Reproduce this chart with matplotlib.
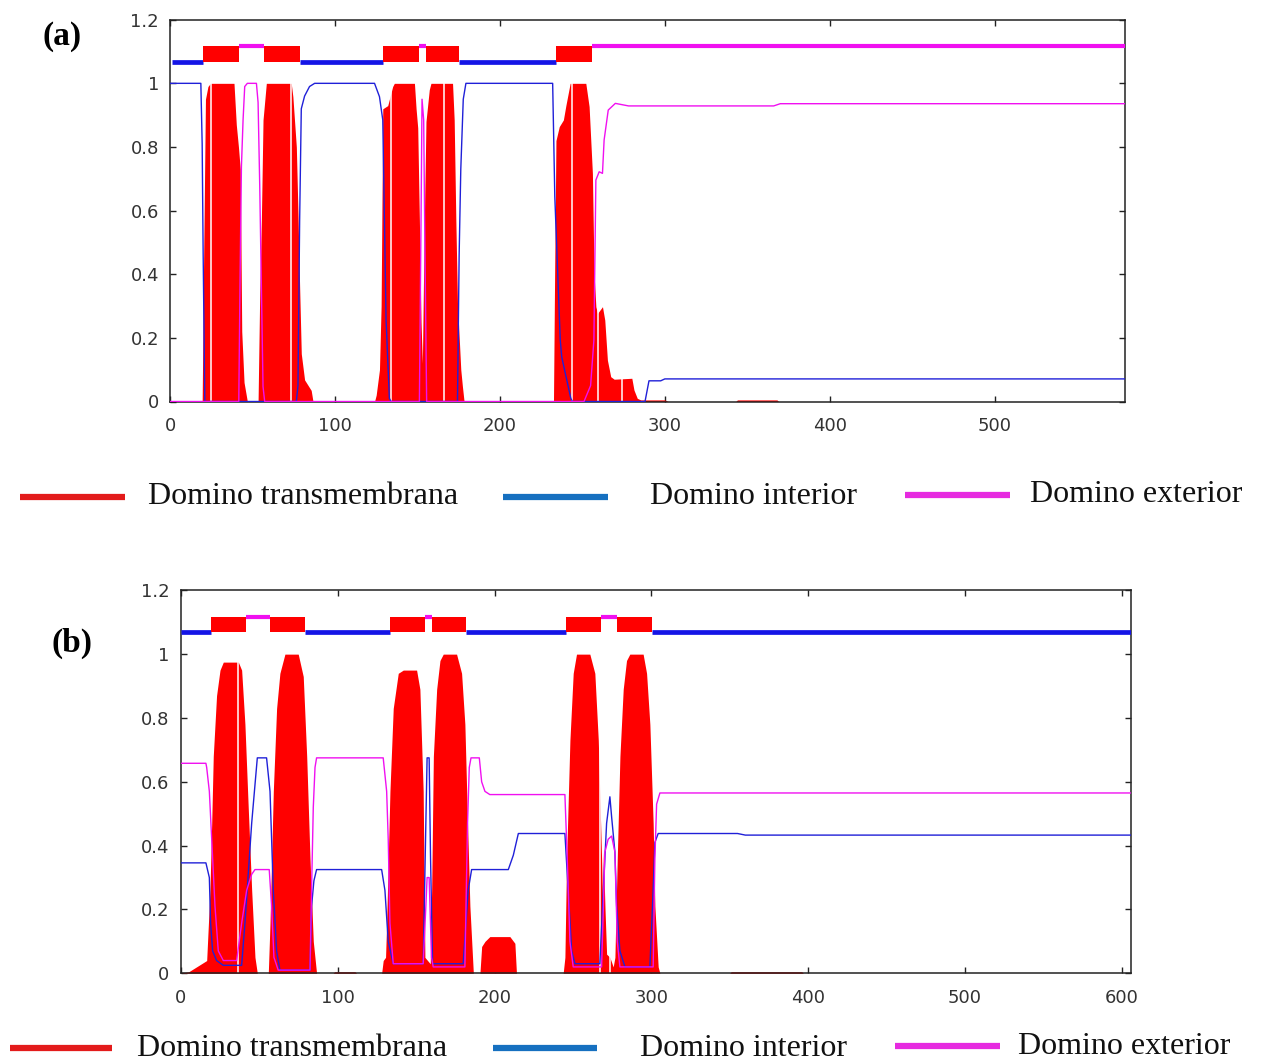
import matplotlib
matplotlib.use("Agg")
import matplotlib.pyplot as plt
from matplotlib.lines import Line2D

# ---------------- panel (a): 578-residue protein ----------------
len_a = 579
tm_a_x = [0, 19.5, 20.5, 21.5, 23, 24.5, 38.8, 40.2, 41.5, 42.6, 43.5, 44.9, 46.9,
          53.4, 54.4, 55.4, 56.4, 58.4, 73.5, 74.5, 76.6, 77.6, 78.6, 79.6, 81.6, 85.6, 86.7,
          124, 125, 127, 128, 129, 132, 135, 136, 148.2, 149.2, 150.2, 151.2, 152.2, 153,
          154.2, 155.2, 157.2, 158.2, 171.3, 172.3, 173.3, 174.3, 176.3, 177.3, 178.3,
          232.5, 233.2, 234, 236, 238.5, 240, 242.6, 252.1, 254.1, 256.1, 257.1, 258.2,
          259.2, 262.2, 263.6, 265.2, 267.2, 269.3, 280, 281.3, 283.3, 285.4, 300, 302,
          343, 344, 368, 369, 579]
tm_a_y = [0, 0, 0.5, 0.95, 0.99, 1.0, 1.0, 0.87, 0.80, 0.73, 0.22, 0.06, 0,
          0, 0.34, 0.57, 0.885, 1.0, 1.0, 0.958, 0.80, 0.59, 0.36, 0.15, 0.068, 0.035, 0,
          0, 0.02, 0.1, 0.3, 0.92, 0.93, 0.99, 1.0, 1.0, 0.92, 0.86, 0.57, 0.25, 0.12,
          0.57, 0.88, 0.98, 1.0, 1.0, 0.885, 0.57, 0.31, 0.1, 0.047, 0,
          0, 0.40, 0.82, 0.864, 0.885, 0.93, 1.0, 1.0, 0.927, 0.717, 0.403, 0.298,
          0.277, 0.298, 0.256, 0.13, 0.078, 0.07, 0.073, 0.036, 0.01, 0.005, 0.005, 0,
          0, 0.005, 0.005, 0, 0]

in_a_x = [0, 18.7, 19.5, 20.1, 21.1, 76.6, 77.6, 78.6, 79.6, 81.6, 84.6, 87.7,
          124, 127, 129, 130, 131, 133, 134, 174.3, 175.3, 176.3, 177.8, 179.4,
          232, 233.3, 236.6, 237.5, 243, 244, 288, 290.4, 297.5, 300, 579]
in_a_y = [1.0, 1.0, 0.81, 0.466, 0, 0, 0.05, 0.57, 0.92, 0.96, 0.99, 1.0,
          1.0, 0.958, 0.885, 0.57, 0.256, 0.01, 0, 0, 0.46, 0.73, 0.95, 1.0,
          1.0, 0.644, 0.193, 0.14, 0.01, 0, 0, 0.065, 0.065, 0.071, 0.071]

out_a_x = [0, 41.7, 42.5, 43.3, 44.3, 45.3, 46.9, 52.4, 53.4, 54.4, 55.4, 56.4, 57.4,
           151.2, 152.2, 152.8, 153.8, 154.6, 155.6, 251, 255, 257, 258.2, 260.2,
           262.2, 263.2, 265.7, 270, 278, 366, 370, 579]
out_a_y = [0, 0, 0.4, 0.738, 0.885, 0.99, 1.0, 1.0, 0.94, 0.68, 0.36, 0.047, 0,
           0, 0.57, 0.95, 0.885, 0.46, 0, 0, 0.05, 0.193, 0.696, 0.722,
           0.717, 0.822, 0.916, 0.937, 0.929, 0.929, 0.936, 0.936]

# predicted topology along the top: helices, inside and outside stretches
helix_a = [(20, 42), (57, 79), (129, 151), (155, 175), (234, 256)]
inside_a = [(1, 20), (79, 129), (175, 234)]
outside_a = [(42, 57), (151, 155), (256, 579)]
gaps_a = [25.1, 73.1, 134.1, 166.0, 243.5, 259.2, 274.3]

# ---------------- panel (b): 606-residue protein ----------------
len_b = 606
tm_b_x = [0, 5, 16.4, 18.5, 19.6, 20.6, 22.7, 24.9, 27, 36.6, 38.7, 40.8, 42.9, 45.1, 47.2, 48.7,
          55.7, 56.8, 58.9, 61, 63.1, 66.3, 74.8, 78, 80.2, 82.3, 84.4, 86.5,
          97, 98, 111, 112,
          128, 129, 130.5, 131.2, 133.3, 135.4, 138.6, 141.8, 150.3, 152.4, 154.5, 155.6, 159,
          159.9, 161, 163.1, 165.2, 167.3, 175.8, 179, 181.1, 182.8, 184.3, 186.5,
          190.7, 191.8, 193.9, 197, 209.8, 213, 214,
          243.8, 244.9, 246, 248.1, 250.2, 252.3, 260.8, 264, 266.2, 268.3, 269, 269.4, 270.5,
          271.5, 273.6, 275.7, 276.8, 278.3, 280, 282.1, 284.2, 286.3, 294.8, 297, 299.1,
          301.2, 302.3, 304.4, 305.5, 350, 351, 396, 397, 606]
tm_b_y = [0, 0.005, 0.04, 0.26, 0.47, 0.68, 0.87, 0.95, 0.975, 0.975, 0.95, 0.78, 0.52, 0.26, 0.05, 0,
          0, 0.157, 0.57, 0.83, 0.94, 1.0, 1.0, 0.93, 0.68, 0.36, 0.1, 0,
          0, 0.005, 0.005, 0,
          0, 0.04, 0.05, 0.157, 0.57, 0.83, 0.94, 0.95, 0.95, 0.89, 0.57, 0.05, 0.03,
          0.26, 0.68, 0.89, 0.98, 1.0, 1.0, 0.94, 0.78, 0.47, 0.21, 0,
          0, 0.084, 0.1, 0.115, 0.115, 0.094, 0,
          0, 0.05, 0.36, 0.73, 0.94, 1.0, 1.0, 0.94, 0.73, 0.36, 0.2, 0.38, 0.2,
          0.06, 0.05, 0.02, 0.05, 0.36, 0.68, 0.89, 0.98, 1.0, 1.0, 0.94, 0.78,
          0.47, 0.21, 0.02, 0, 0, 0.005, 0.005, 0, 0]

in_b_x = [0, 15.9, 18.1, 18.9, 20.2, 22.7, 27, 38.7, 40.8, 42.9, 45.1, 47.2, 48.7,
          54.6, 56.8, 58.9, 61, 63.1, 82.3, 83.3, 84.8, 86.5, 128, 130.1, 132.2, 135.4,
          154.5, 156.2, 157, 158.3, 159.2, 160.5, 180, 183.2, 185.4, 208.8, 212, 215.2,
          244.9, 247, 249.2, 251.3, 267.2, 269.4, 271.5, 273.6, 274.7, 276.8, 277.9, 280,
          283.2, 299.1, 301.2, 302.3, 304.4, 355, 360, 606]
in_b_y = [0.346, 0.346, 0.30, 0.157, 0.07, 0.04, 0.025, 0.025, 0.157, 0.31, 0.47, 0.59, 0.675,
          0.675, 0.57, 0.26, 0.07, 0.01, 0.01, 0.21, 0.29, 0.325, 0.325, 0.26, 0.1, 0.03,
          0.03, 0.47, 0.675, 0.675, 0.36, 0.03, 0.03, 0.26, 0.325, 0.325, 0.37, 0.438,
          0.438, 0.26, 0.07, 0.03, 0.03, 0.26, 0.47, 0.553, 0.49, 0.38, 0.21, 0.07,
          0.02, 0.02, 0.26, 0.41, 0.438, 0.438, 0.433, 0.433]

out_b_x = [0, 15.9, 16.4, 18.1, 19.6, 21.7, 23.8, 27, 35.5, 38.7, 41.9, 45.1, 47.2,
           56.3, 57.8, 59.3, 62, 82.3, 83.3, 84.4, 85.5, 86.5, 129, 131.2, 132.2, 133.3,
           135.4, 154.5, 156.2, 157, 158.3, 159.8, 160.9, 181.1, 182.8, 183.9, 185,
           190.3, 191.8, 193.9, 197, 244.9, 246.4, 248.1, 250.2, 268.3, 269.4, 270.4,
           272.5, 274.7, 276.8, 278.3, 280, 301.2, 302.3, 303.4, 305.5, 606]
out_b_y = [0.658, 0.658, 0.645, 0.57, 0.42, 0.21, 0.07, 0.04, 0.04, 0.157, 0.26, 0.31, 0.325,
           0.325, 0.21, 0.05, 0.01, 0.01, 0.26, 0.52, 0.645, 0.675, 0.675, 0.57, 0.42, 0.157,
           0.03, 0.03, 0.21, 0.30, 0.30, 0.05, 0.02, 0.02, 0.47, 0.645, 0.675,
           0.675, 0.6, 0.57, 0.56, 0.56, 0.36, 0.1, 0.02, 0.02, 0.2, 0.38,
           0.42, 0.43, 0.38, 0.1, 0.02, 0.02, 0.36, 0.53, 0.565, 0.565]

helix_b = [(19, 41.5), (57, 79), (133.5, 155.5), (160, 182), (245.5, 268), (278, 300.5)]
inside_b = [(0, 19), (79, 133.5), (182, 245.5), (300.5, 606)]
outside_b = [(41.5, 57), (155.5, 160), (268, 278)]
gaps_b = [36.6, 267.2, 273.8]

y_ticks = [0, 0.2, 0.4, 0.6, 0.8, 1.0, 1.2]
y_tick_labels = ["0", "0.2", "0.4", "0.6", "0.8", "1", "1.2"]
legend_labels = ["Domino transmembrana", "Domino interior", "Domino exterior"]

RED = "#ff0000"
BLUE = "#2020d8"
MAGENTA = "#f010f0"
LEG_COLORS = ["#e31b1b", "#1670c0", "#e62ae0"]

fig = plt.figure(figsize=(12.63, 10.64), dpi=100)
W, H = 1263.0, 1064.0


def draw_panel(rect, xlim, xticks, tm, inside, outside, helices, ins, outs, gaps):
    ax = fig.add_axes(rect)
    ax.fill_between(tm[0], 0, tm[1], color=RED, lw=0, zorder=2)
    ax.vlines(gaps, 0, 1.0, colors="white", lw=1.1, zorder=2.5)
    ax.plot(inside[0], inside[1], color=BLUE, lw=1.0, zorder=3)
    ax.plot(outside[0], outside[1], color=MAGENTA, lw=1.0, zorder=3)
    # topology track
    for a, b in ins:
        ax.plot([a, b], [1.068, 1.068], color="#1414e6", lw=3.4,
                solid_capstyle="butt", zorder=3)
    for a, b in outs:
        ax.plot([a, b], [1.117, 1.117], color="#f010f0", lw=3.0,
                solid_capstyle="butt", zorder=3)
    ax.broken_barh([(a, b - a) for a, b in helices], (1.068, 0.049),
                   facecolor=RED, edgecolor="none", zorder=4)
    ax.set_xlim(*xlim)
    ax.set_ylim(0, 1.2)
    ax.set_xticks(xticks)
    ax.set_xticklabels([str(t) for t in xticks])
    ax.set_yticks(y_ticks)
    ax.set_yticklabels(y_tick_labels)
    ax.tick_params(direction="in", length=4, width=1.0, top=True, right=True,
                   labelsize=13, labelcolor="#333333", color="#222222")
    ax.tick_params(axis="y", pad=8)
    ax.tick_params(axis="x", pad=11)
    for s in ax.spines.values():
        s.set_color("#222222")
        s.set_linewidth(1.1)
    for lab in ax.get_xticklabels() + ax.get_yticklabels():
        lab.set_fontfamily("DejaVu Sans")
    return ax


ax_a = draw_panel([170 / W, 1 - 401.5 / H, 955 / W, 381.8 / H], (1, len_a),
                  [0, 100, 200, 300, 400, 500],
                  (tm_a_x, tm_a_y), (in_a_x, in_a_y), (out_a_x, out_a_y),
                  helix_a, inside_a, outside_a, gaps_a)
ax_b = draw_panel([180.5 / W, 1 - 973.3 / H, 950.5 / W, 383 / H], (-0.3, len_b),
                  [0, 100, 200, 300, 400, 500, 600],
                  (tm_b_x, tm_b_y), (in_b_x, in_b_y), (out_b_x, out_b_y),
                  helix_b, inside_b, outside_b, gaps_b)

serif = ["Liberation Serif", "DejaVu Serif"]
fig.text(62 / W, 1 - 37 / H, "(a)", fontsize=24, fontweight="bold", family=serif,
         ha="center", va="center")
fig.text(72 / W, 1 - 643 / H, "(b)", fontsize=24, fontweight="bold", family=serif,
         ha="center", va="center")


def draw_legend(segs, text_x, ys):
    for (x0, x1), tx, c, lab, yy in zip(segs, text_x, LEG_COLORS, legend_labels, ys):
        y = 1 - yy / H
        fig.add_artist(Line2D([x0 / W, x1 / W], [y, y], color=c, lw=4.5,
                              transform=fig.transFigure, solid_capstyle="butt"))
        fig.text(tx / W, y, lab, fontsize=23, family=serif, ha="left",
                 va="center", color="#111111")


draw_legend([(20, 125), (503, 608), (905, 1010)], [148, 650, 1030], [497, 497, 495])
draw_legend([(10, 112), (493, 597), (895, 1000)], [137, 640, 1018], [1048, 1048, 1046])

fig.savefig("out.png", dpi=100)
